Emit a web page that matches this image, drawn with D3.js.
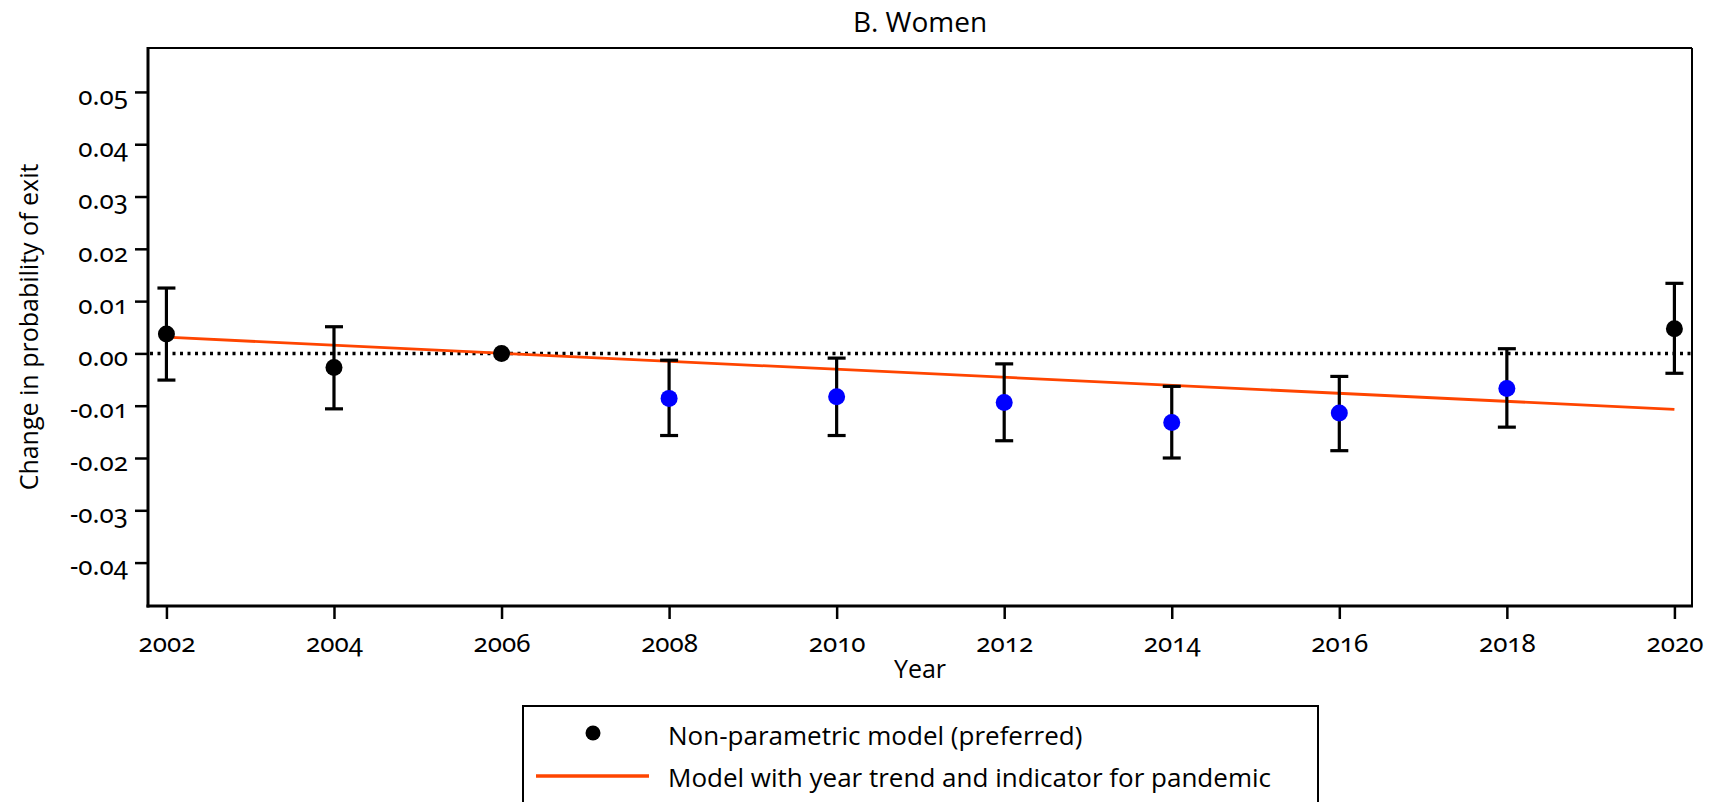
<!DOCTYPE html>
<html>
<head>
<meta charset="utf-8">
<script src="https://cdn.jsdelivr.net/npm/d3@7"></script>
<style>
  body { margin: 0; background: #fff; }
  .tick text { font-family: "Noto Sans"; font-size: 26px; font-feature-settings: "onum"; fill: #000; }
  .lbl { font-family: "Open Sans"; fill: #000; }
</style>
</head>
<body>
<svg id="chart"></svg>
<script>
// data
var years = [2002, 2004, 2006, 2008, 2010, 2012, 2014, 2016, 2018, 2020];
var estimates = [0.0037, -0.0027, 0.0, -0.0086, -0.0083, -0.0094, -0.0132, -0.0114, -0.0067, 0.0047];
var ciUpper = [0.0125, 0.0051, null, -0.0013, -0.0009, -0.0020, -0.0063, -0.0044, 0.0009, 0.0134];
var ciLower = [-0.0051, -0.0106, null, -0.0157, -0.0157, -0.0167, -0.0200, -0.0186, -0.0141, -0.0038];
var significant = [false, false, false, true, true, true, true, true, true, false];

// fitted trend line, end points
var trendYears = [2002, 2020];
var trendValues = [0.0031, -0.0107];

var xTicks = [2002, 2004, 2006, 2008, 2010, 2012, 2014, 2016, 2018, 2020];
var yTicks = [-0.04, -0.03, -0.02, -0.01, 0.00, 0.01, 0.02, 0.03, 0.04, 0.05];

var title = "B. Women";
var xTitle = "Year";
var yTitle = "Change in probability of exit";
var legendLabels = ["Non-parametric model (preferred)", "Model with year trend and indicator for pandemic"];

var width = 1711;
var height = 802;
var margin = {top: 48, right: 19, bottom: 196, left: 148};

var svg = d3.select("#chart")
    .attr("width", width)
    .attr("height", height);

var x = d3.scaleLinear()
    .domain([2001.78, 2020.21])
    .range([margin.left, width - margin.right]);

var y = d3.scaleLinear()
    .domain([-0.0483, 0.0584])
    .range([height - margin.bottom, margin.top]);

var points = years.map(function (yr, i) {
    return {year: yr, est: estimates[i], hi: ciUpper[i], lo: ciLower[i], sig: significant[i]};
});

// title
svg.append("text")
    .attr("class", "lbl")
    .attr("x", (x.range()[0] + x.range()[1]) / 2)
    .attr("y", 32)
    .attr("text-anchor", "middle")
    .style("font-size", "28px")
    .text(title);

// axes
var xAxis = svg.append("g")
    .attr("transform", "translate(0," + y.range()[0] + ")")
    .call(d3.axisBottom(x).tickValues(xTicks).tickSize(13).tickPadding(15)
        .tickFormat(function (d) { return String(d); }));

var yAxis = svg.append("g")
    .attr("transform", "translate(" + x.range()[0] + ",0)")
    .call(d3.axisLeft(y).tickValues(yTicks).tickSize(13).tickPadding(7)
        .tickFormat(function (d) { return d.toFixed(2); }));

xAxis.select(".domain").remove();
yAxis.select(".domain").remove();
xAxis.selectAll(".tick line").attr("stroke", "#000").attr("stroke-width", 2.5);
yAxis.selectAll(".tick line").attr("stroke", "#000").attr("stroke-width", 2.5);
yAxis.selectAll(".tick text").attr("dy", "0.47em");

// frame
var x0 = x.range()[0], x1 = x.range()[1], y0 = y.range()[0], y1 = y.range()[1];
svg.append("line").attr("x1", x0).attr("x2", x1).attr("y1", y1).attr("y2", y1)
    .attr("stroke", "#000").attr("stroke-width", 2);
svg.append("line").attr("x1", x1).attr("x2", x1).attr("y1", y1).attr("y2", y0)
    .attr("stroke", "#000").attr("stroke-width", 2);
svg.append("line").attr("x1", x0).attr("x2", x0).attr("y1", y1 - 1).attr("y2", y0 + 1.5)
    .attr("stroke", "#000").attr("stroke-width", 3);
svg.append("line").attr("x1", x0 - 1.5).attr("x2", x1 + 1).attr("y1", y0).attr("y2", y0)
    .attr("stroke", "#000").attr("stroke-width", 3);

// axis titles
svg.append("text")
    .attr("class", "lbl")
    .attr("x", (x0 + x1) / 2)
    .attr("y", 678)
    .attr("text-anchor", "middle")
    .style("font-size", "25px")
    .text(xTitle);

svg.append("text")
    .attr("class", "lbl")
    .attr("transform", "translate(38," + ((y0 + y1) / 2) + ") rotate(-90)")
    .attr("text-anchor", "middle")
    .style("font-size", "25px")
    .text(yTitle);

// zero reference line
svg.append("line")
    .attr("x1", x0 + 2).attr("x2", x1 - 1)
    .attr("y1", y(0)).attr("y2", y(0))
    .attr("stroke", "#000")
    .attr("stroke-width", 3.5)
    .attr("stroke-dasharray", "3,4.5");

// trend line
var trendLine = d3.line()
    .x(function (d) { return x(d[0]); })
    .y(function (d) { return y(d[1]); });

svg.append("path")
    .datum(d3.zip(trendYears, trendValues))
    .attr("d", trendLine)
    .attr("fill", "none")
    .attr("stroke", "#ff4500")
    .attr("stroke-width", 2.8);

// error bars
var bars = svg.selectAll(".ebar")
    .data(points.filter(function (d) { return d.hi !== null; }))
    .enter().append("g")
    .attr("class", "ebar")
    .attr("stroke", "#000")
    .attr("stroke-width", 3.2);

bars.append("line")
    .attr("x1", function (d) { return x(d.year); })
    .attr("x2", function (d) { return x(d.year); })
    .attr("y1", function (d) { return y(d.hi); })
    .attr("y2", function (d) { return y(d.lo); });

bars.append("line")
    .attr("x1", function (d) { return x(d.year) - 9; })
    .attr("x2", function (d) { return x(d.year) + 9; })
    .attr("y1", function (d) { return y(d.hi); })
    .attr("y2", function (d) { return y(d.hi); });

bars.append("line")
    .attr("x1", function (d) { return x(d.year) - 9; })
    .attr("x2", function (d) { return x(d.year) + 9; })
    .attr("y1", function (d) { return y(d.lo); })
    .attr("y2", function (d) { return y(d.lo); });

// point estimates
svg.selectAll(".pt")
    .data(points)
    .enter().append("circle")
    .attr("class", "pt")
    .attr("cx", function (d) { return x(d.year); })
    .attr("cy", function (d) { return y(d.est); })
    .attr("r", 8.5)
    .attr("fill", function (d) { return d.sig ? "#0000ff" : "#000"; });

// legend
var legend = svg.append("g");
legend.append("rect")
    .attr("x", 523).attr("y", 706)
    .attr("width", 795).attr("height", 140)
    .attr("fill", "none")
    .attr("stroke", "#000")
    .attr("stroke-width", 2);

legend.append("circle")
    .attr("cx", 593).attr("cy", 733)
    .attr("r", 7.5)
    .attr("fill", "#000");

legend.append("line")
    .attr("x1", 536).attr("x2", 649)
    .attr("y1", 776).attr("y2", 776)
    .attr("stroke", "#ff4500")
    .attr("stroke-width", 3.5);

legend.selectAll(".legtext")
    .data(legendLabels)
    .enter().append("text")
    .attr("class", "lbl legtext")
    .attr("x", 668)
    .attr("y", function (d, i) { return 745 + i * 42; })
    .style("font-size", "26px")
    .text(function (d) { return d; });
</script>
</body>
</html>
